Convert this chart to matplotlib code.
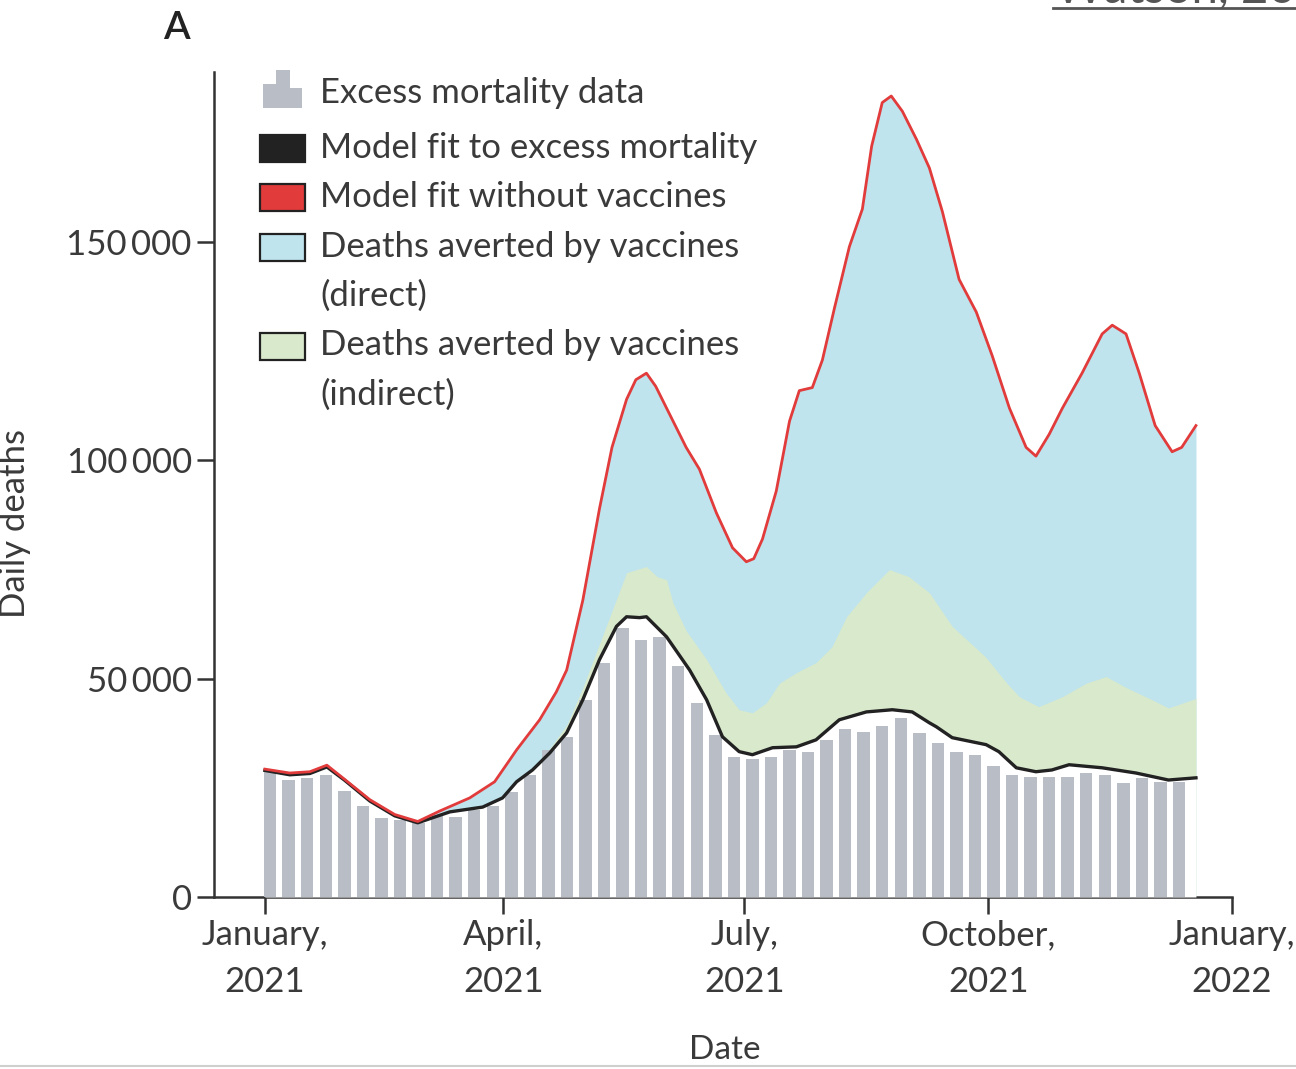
import numpy as np
import pandas as pd
import matplotlib
matplotlib.use("Agg")
import matplotlib.pyplot as plt
from matplotlib.patches import Rectangle
from matplotlib.lines import Line2D

plt.rcParams['font.family'] = ['Lato', 'DejaVu Sans']

start = pd.Timestamp("2021-01-01")

# weekly excess mortality data (bar centres)
bar_dates = pd.date_range("2021-01-03", periods=50, freq="7D")
excess_deaths = [29000, 26800, 27300, 28000, 24300, 20900, 18100, 17600, 17000, 18800,
                 18400, 19900, 20900, 24100, 28000, 33700, 36700, 45200, 53600, 61600,
                 58900, 59600, 53000, 44500, 37200, 32100, 31600, 32100, 33700, 33300,
                 36000, 38500, 37900, 39200, 41000, 37600, 35300, 33300, 32600, 30000,
                 28000, 27500, 27500, 27500, 28400, 28000, 26200, 27300, 26400, 26400]

# model fit to excess mortality (days since 1 Jan 2021)
fit_days = [0, 9.4, 17, 23.4, 30, 39.6, 49, 57.7, 69.8, 82.2, 89.7, 95, 101, 107.5,
            113.9, 120, 126.3, 132.7, 136.5, 141.4, 144, 151.6, 160.3, 166.7, 172.7,
            179, 184, 191.6, 200.6, 208, 216.8, 227, 236.8, 244.3, 250.8, 253.4,
            259.4, 272.2, 277, 283.6, 291, 297, 303.5, 316, 328.8, 341, 351.4]
fit_deaths = [29000, 28000, 28300, 29800, 26800, 22000, 18600, 17000, 19500, 20600,
              22700, 26400, 29100, 33000, 37600, 45200, 54400, 62000, 64200, 64000,
              64200, 59600, 52000, 45200, 36700, 33300, 32600, 34200, 34400, 36000,
              40600, 42400, 42900, 42400, 39900, 39000, 36500, 34900, 33300, 29600,
              28700, 29100, 30300, 29600, 28400, 26800, 27300]

# model fit without vaccines
novax_days = [0, 9.4, 17, 23.4, 30, 39.6, 49, 57.7, 66, 77.3, 86.7, 92.4, 95, 103.7,
              110, 113.9, 116, 120, 126.3, 131, 136.5, 140, 144, 147.5, 151.6, 159, 164,
              170.4, 176.5, 181.7, 184.5, 187.8, 193, 198, 201.7, 206.6, 210.4, 215,
              220.6, 225.5, 229, 233, 236.4, 240.6, 245.9, 250.8, 255.7, 262, 268.5,
              274.5, 281, 287.3, 291, 296, 301, 308.4, 316, 319.8, 325, 330, 336, 342.4,
              346, 351.4]
novax_deaths = [29300, 28400, 28700, 30200, 27000, 22300, 18900, 17300, 19700, 22700,
                26400, 31400, 33700, 40600, 47000, 52000, 57500, 68000, 89000, 103000,
                114000, 118500, 120000, 117000, 112000, 103000, 98000, 88000, 80000,
                76800, 77500, 82000, 93000, 109000, 116000, 116700, 123000, 135000,
                149000, 157600, 172000, 182000, 183500, 180000, 173600, 167000, 157000,
                141500, 134000, 124000, 112000, 103000, 101000, 106000, 112000, 120000,
                129000, 131000, 129000, 120000, 108000, 102000, 103000, 108000]

# upper edge of deaths averted indirectly
indirect_days = [95, 101, 107.5, 114, 120, 126.3, 136.5, 144, 148, 151.6, 154, 159,
                 166.7, 174, 179, 184, 189.3, 194.2, 200.6, 208, 214, 219.5, 227, 235.7,
                 243, 250.8, 259.4, 272, 280, 284.7, 292, 301, 310, 317.5, 325, 334.8,
                 341, 351.4]
indirect_top = [26400, 29500, 34000, 39500, 48000, 58000, 74300, 75700, 73400, 72700,
                67400, 61000, 54400, 46800, 42900, 42200, 44500, 49000, 51400, 53700,
                57300, 64200, 69700, 75000, 73400, 69700, 62000, 55000, 49000, 45900,
                43600, 45900, 49000, 50500, 48000, 45200, 43300, 45500]

bar_col = '#b9bec6'
blue = '#bfe4ee'
green = '#d8e9cc'
red = '#e23b3b'
dark = '#222222'
txt = '#3a3a3a'

fig = plt.figure(figsize=(12.96, 10.69), dpi=100)
ax = fig.add_axes([214 / 1296, 1 - 897 / 1069, 1018 / 1296, 825 / 1069])

fit_x = start + pd.to_timedelta(fit_days, unit="D")
novax_x = start + pd.to_timedelta(novax_days, unit="D")
ind_x = start + pd.to_timedelta(indirect_days, unit="D")

ax.fill_between(novax_x, novax_deaths, color=blue, lw=0, zorder=1)
ax.fill_between(ind_x, indirect_top, color=green, lw=0, zorder=2)
ax.fill_between(fit_x, fit_deaths, color='white', lw=0, zorder=3)
ax.bar(bar_dates, excess_deaths, width=4.7, color=bar_col, lw=0, zorder=4)
ax.plot(fit_x, fit_deaths, color=dark, lw=2.4, zorder=5, solid_joinstyle='round')
ax.plot(novax_x, novax_deaths, color=red, lw=2.0, zorder=6, solid_joinstyle='round')

ax.set_xlim(start - pd.Timedelta(days=19.2), pd.Timestamp("2022-01-01"))
ax.set_ylim(0, 189000)

for s in ['top', 'right']:
    ax.spines[s].set_visible(False)
for s in ['left', 'bottom']:
    ax.spines[s].set_linewidth(1.8)
    ax.spines[s].set_color('#333333')

tick_dates = pd.to_datetime(["2021-01-01", "2021-04-01", "2021-07-01", "2021-10-01", "2022-01-01"])
tick_labels = ["January,\n2021", "April,\n2021", "July,\n2021", "October,\n2021", "January,\n2022"]
ax.set_xticks(tick_dates)
ax.set_xticklabels(tick_labels)
ax.set_yticks([0, 50000, 100000, 150000])
ax.set_yticklabels(["0", "50\u2009000", "100\u2009000", "150\u2009000"])
ax.tick_params(direction='out', length=12, width=1.8, color='#333333',
               labelsize=25, labelcolor=txt, pad=4)
for lab in ax.get_xticklabels():
    lab.set_linespacing(1.55)

fig.text(15 / 1296, 1 - 523 / 1069, "Daily deaths", rotation=90, ha='center', va='center',
         fontsize=25, color=txt)
fig.text(725 / 1296, 1 - 1050 / 1069, "Date", ha='center', va='center', fontsize=24, color=txt)
fig.text(176 / 1296, 1 - 28 / 1069, "A", ha='center', va='center', fontsize=28,
         fontweight='semibold', color='#222222')

# top-right cropped citation and bottom rule
fig.text(1055 / 1296, 1 - 3 / 1069, "Watson, 2022", ha='left', va='baseline', fontsize=34,
         color='#555555')
fig.add_artist(Line2D([1053 / 1296, 1], [1 - 8 / 1069, 1 - 8 / 1069], color='#555555', lw=2))
fig.add_artist(Line2D([0, 1], [1 - 1066 / 1069] * 2, color='#cfcfcf', lw=1.5))

# legend drawn by hand
def px(x, y):
    return (x / 1296, 1 - y / 1069)

# histogram icon for bars
for x0, x1, top in [(263, 276, 84), (276, 290, 70), (290, 302, 88)]:
    fig.add_artist(Rectangle(px(x0, 108), (x1 - x0) / 1296, (108 - top) / 1069,
                             transform=fig.transFigure, color=bar_col, lw=0))

handles = [(dark, 149), (red, 198), (blue, 248), (green, 347)]
for col, yc in handles:
    fig.add_artist(Rectangle(px(260, yc + 13), 45 / 1296, 27 / 1069, transform=fig.transFigure,
                             facecolor=col, edgecolor='#222222', lw=1.6))

legend_lines = [(93, "Excess mortality data"), (148, "Model fit to excess mortality"),
                (197, "Model fit without vaccines"), (247, "Deaths averted by vaccines"),
                (296, "(direct)"), (345, "Deaths averted by vaccines"), (395, "(indirect)")]
for yc, s in legend_lines:
    fig.text(320 / 1296, 1 - yc / 1069, s, ha='left', va='center', fontsize=25, color=txt)

fig.savefig("out.png", dpi=100)
